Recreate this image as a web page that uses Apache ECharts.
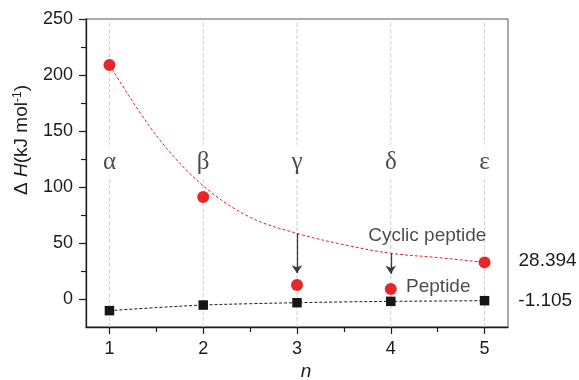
<!DOCTYPE html>
<html>
<head>
<meta charset="utf-8">
<script src="https://cdn.jsdelivr.net/npm/echarts@6/dist/echarts.min.js"></script>
<style>html,body{margin:0;padding:0;background:#fff;}#c{width:579px;height:380px;}</style>
</head>
<body>
<div id="c"></div>
<script>
// ---- data ----
const nValues = [1, 2, 3, 4, 5];
const greek = ['α', 'β', 'γ', 'δ', 'ε'];
const cyclicPeptide = [209, 91, 12.5, 9, 32.7];
const peptide = [-10.4, -5.4, -3.3, -2.1, -1.5];
const fitN = [1, 1.5, 2, 2.5, 3, 3.5, 4, 4.5, 5];
const cyclicFit = [209, 146, 101, 73, 58.6, 48.5, 40.8, 37, 32.7];
const peptideFit = [-10.4, -7.7, -5.4, -4.2, -3.3, -2.6, -2.1, -1.8, -1.5];
const endLabels = ['28.394', '-1.105'];
const arrowN = [3, 4];
const arrowFrom = [58.6, 40.8];
const arrowTo = [23, 22.5];
const yTicks = [0, 50, 100, 150, 200, 250];
const yMinorTicks = [25, 75, 125, 175, 225];
const xTicks = [1, 2, 3, 4, 5];
const xMinorTicks = [1.5, 2.5, 3.5, 4.5];
const greekLevel = 122.3;
const yMin = -25, yMax = 250;

const RED = '#e5262b';
const DARK = '#1e1b1c';
const SANS = '"Liberation Sans", Arial, sans-serif';
const SERIF = '"Liberation Serif", "Times New Roman", serif';

const chart = echarts.init(document.getElementById('c'));
const zip = (a, b) => a.map((v, i) => [v, b[i]]);

const lastIdx = nValues.length - 1;
const cyclicData = cyclicPeptide.map((v, i) => {
  const d = { value: [nValues[i], v] };
  if (i === lastIdx) d.label = { show: true, formatter: endLabels[0], position: 'right', distance: 28, offset: [0, -2], fontFamily: SANS, fontSize: 19, color: DARK };
  return d;
});
const peptideData = peptide.map((v, i) => {
  const d = { value: [nValues[i], v] };
  if (i === lastIdx) d.label = { show: true, formatter: endLabels[1], position: 'right', distance: 29, fontFamily: SANS, fontSize: 19, color: DARK };
  return d;
});
// vertical reference lines at each n (segments separated by gaps)
const gridLineData = [];
nValues.forEach((n, i) => {
  if (i > 0) gridLineData.push('-');
  gridLineData.push([n, yMin], [n, yMax]);
});

const option = {
  animation: false,
  backgroundColor: '#fff',
  grid: { left: 86, top: 19, width: 422, height: 308, show: true, borderColor: '#555', borderWidth: 1, backgroundColor: 'transparent' },
  xAxis: [
    {
      type: 'value', min: 0.75, max: 5.25, position: 'bottom',
      axisLine: { show: true, onZero: false, lineStyle: { color: DARK, width: 1.3 } },
      axisTick: { show: true, length: 7, customValues: xTicks, lineStyle: { color: DARK, width: 1.2 } },
      axisLabel: { customValues: xTicks, margin: 13, fontFamily: SANS, fontSize: 18, color: DARK },
      splitLine: { show: false }
    },
    {
      type: 'value', min: 0.75, max: 5.25, position: 'bottom',
      axisLine: { show: false, onZero: false },
      axisTick: { show: true, length: 5, customValues: xMinorTicks, lineStyle: { color: DARK, width: 1.2 } },
      axisLabel: { show: false },
      splitLine: { show: false }
    }
  ],
  yAxis: [
    {
      type: 'value', min: yMin, max: yMax, position: 'left',
      axisLine: { show: true, onZero: false, lineStyle: { color: DARK, width: 1.3 } },
      axisTick: { show: true, length: 7, customValues: yTicks, lineStyle: { color: DARK, width: 1.2 } },
      axisLabel: { customValues: yTicks, margin: 13, fontFamily: SANS, fontSize: 18, color: DARK },
      splitLine: { show: false }
    },
    {
      type: 'value', min: yMin, max: yMax, position: 'left',
      axisLine: { show: false, onZero: false },
      axisTick: { show: true, length: 5, customValues: yMinorTicks, lineStyle: { color: DARK, width: 1.2 } },
      axisLabel: { show: false },
      splitLine: { show: false }
    }
  ],
  series: [
    {
      name: 'grid-lines', type: 'line', z: 1, silent: true, symbol: 'none', connectNulls: false,
      data: gridLineData,
      lineStyle: { color: '#cfcfcf', width: 1, type: [4, 2] }
    },
    {
      name: 'labels', type: 'scatter', z: 2, silent: true, symbolSize: 0,
      data: nValues.map((n, i) => ({ value: [n, greekLevel], name: greek[i] })),
      label: {
        show: true, position: 'inside', formatter: p => p.name,
        fontFamily: SERIF, fontSize: 25, color: DARK,
        backgroundColor: '#fff', padding: [4, 2, 6, 2]
      }
    },
    {
      name: 'cyclic-fit', type: 'line', z: 3, smooth: 0.35, symbol: 'none', silent: true,
      data: zip(fitN, cyclicFit),
      lineStyle: { color: RED, width: 1, type: [3, 2] }
    },
    {
      name: 'peptide-fit', type: 'line', z: 3, smooth: 0.35, symbol: 'none', silent: true,
      data: zip(fitN, peptideFit),
      lineStyle: { color: DARK, width: 1, type: [3, 2] }
    },
    {
      name: 'arrows', type: 'line', data: [], z: 3, silent: true,
      markLine: {
        silent: true, symbol: ['none', 'arrow'], symbolSize: 8,
        label: { show: false },
        lineStyle: { color: '#3a3a3a', width: 1.3, type: 'solid' },
        data: arrowN.map((n, i) => [{ coord: [n, arrowFrom[i]] }, { coord: [n, arrowTo[i]] }])
      }
    },
    {
      name: 'Cyclic peptide', type: 'scatter', z: 4, symbol: 'circle', symbolSize: 12,
      itemStyle: { color: RED, opacity: 1 },
      data: cyclicData
    },
    {
      name: 'Peptide', type: 'scatter', z: 4, symbol: 'rect', symbolSize: 9.5,
      itemStyle: { color: '#161616', opacity: 1 },
      data: peptideData
    },
    {
      name: 'annotations', type: 'scatter', z: 5, silent: true, symbolSize: 0,
      data: [
        { value: [5.02, 56.3], name: 'Cyclic peptide', label: { position: 'left', distance: 0 } },
        { value: [4.163, 10.7], name: 'Peptide', label: { position: 'right', distance: 0 } }
      ],
      label: { show: true, formatter: p => p.name, fontFamily: SANS, fontSize: 19, color: DARK }
    }
  ],
  graphic: [
    {
      type: 'text', x: 22, y: 140, rotation: Math.PI / 2,
      style: {
        text: '{a|Δ }{h|H}{a|(kJ mol}{s|-1}{a|)}',
        align: 'center', verticalAlign: 'middle',
        fill: DARK,
        rich: {
          a: { fontFamily: SANS, fontSize: 19, fill: DARK, color: DARK },
          h: { fontFamily: SANS, fontSize: 19, fontStyle: 'italic', fill: DARK, color: DARK },
          s: { fontFamily: SANS, fontSize: 12, fill: DARK, color: DARK, verticalAlign: 'top', padding: [0, 0, 8, 0] }
        }
      }
    },
    {
      type: 'text', x: 306, y: 372,
      style: { text: 'n', font: 'italic 19px "Liberation Sans", Arial, sans-serif', fill: DARK, align: 'center', verticalAlign: 'middle' }
    }
  ]
};
chart.setOption(option);
</script>
</body>
</html>
